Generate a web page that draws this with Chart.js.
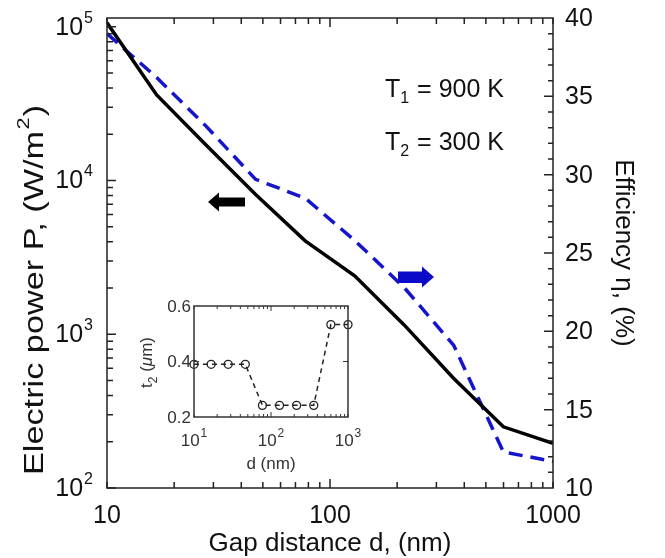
<!DOCTYPE html>
<html>
<head>
<meta charset="utf-8">
<script src="https://cdn.jsdelivr.net/npm/chart.js@4.4.1/dist/chart.umd.min.js"></script>
<style>
    body { margin: 0; background: #fff; }
    #wrap { position: relative; width: 665px; height: 558px; }
    #main { position: absolute; left: 0; top: 0; }
    #inset { position: absolute; left: 140px; top: 290px; }
</style>
</head>
<body>
<div id="wrap">
    <canvas id="main" width="665" height="558"></canvas>
    <canvas id="inset" width="230" height="190"></canvas>
</div>
<script>
// values
const gapNm = [10, 16.7, 27.8, 46.4, 77.4, 129, 215, 359, 599, 1000];
const powerWm2 = [106000, 36000, 17000, 8100, 4050, 2400, 1150, 515, 250, 195];
const efficiencyPct = [39.0, 36.2, 33.1, 29.7, 28.5, 25.8, 22.8, 19.1, 12.3, 11.7];
const t2Um = [0.39, 0.39, 0.39, 0.39, 0.242, 0.242, 0.242, 0.242, 0.533, 0.533];

const gapTickLabels = ["10", "100", "1000"];
const powerTickExps = [2, 3, 4, 5];
const effTickLabels = [10, 15, 20, 25, 30, 35, 40];
const insetYTicks = [0.2, 0.4, 0.6];
const insetXTickExps = [1, 2, 3];

const FONT = '"Liberation Sans", Arial, sans-serif';

const toPoints = (xs, ys) => xs.map((x, i) => ({x: x, y: ys[i]}));

// minor ticks for a log axis between two decades
const logTicks = (from, to) => {
    const out = [];
    for (let d = from; d < to; d *= 10) {
        for (let k = 1; k < 10; k++) out.push(k * d);
    }
    out.push(to);
    return out;
};

const supText = (ctx, base, sup, x, y, align, size, supSize, raise) => {
    ctx.font = size + "px " + FONT;
    const wb = ctx.measureText(base).width;
    ctx.font = supSize + "px " + FONT;
    const ws = ctx.measureText(sup).width;
    const total = wb + ws + 1;
    let x0 = x;
    if (align === "right") x0 = x - total;
    if (align === "center") x0 = x - total / 2;
    ctx.textAlign = "left";
    ctx.textBaseline = "alphabetic";
    ctx.font = size + "px " + FONT;
    ctx.fillText(base, x0, y);
    ctx.font = supSize + "px " + FONT;
    ctx.fillText(sup, x0 + wb + 1, y - raise);
};

const mainDecor = {
    id: "mainDecor",
    afterDatasetsDraw(chart) {
        const {ctx, chartArea: a, scales} = chart;
        const xs = scales.x, yl = scales.y, yr = scales.y2;
        ctx.save();
        ctx.strokeStyle = "#222";
        ctx.lineWidth = 1.5;
        ctx.strokeRect(a.left, a.top, a.right - a.left, a.bottom - a.top);

        ctx.beginPath();
        logTicks(10, 1000).forEach(v => {
            const px = xs.getPixelForValue(v);
            const len = (v === 100) ? 9 : 6;
            ctx.moveTo(px, a.bottom); ctx.lineTo(px, a.bottom - len);
            ctx.moveTo(px, a.top); ctx.lineTo(px, a.top + len);
        });
        logTicks(100, 100000).forEach(v => {
            const py = yl.getPixelForValue(v);
            const len = (Math.log10(v) % 1 === 0) ? 9 : 6;
            ctx.moveTo(a.left, py); ctx.lineTo(a.left + len, py);
        });
        for (let v = 11; v < 40; v++) {
            const py = yr.getPixelForValue(v);
            const len = (v % 5 === 0) ? 9 : 5;
            ctx.moveTo(a.right, py); ctx.lineTo(a.right - len, py);
        }
        ctx.stroke();

        ctx.fillStyle = "#111";
        // x tick labels
        ctx.font = "25px " + FONT;
        ctx.textAlign = "center";
        ctx.textBaseline = "alphabetic";
        gapTickLabels.forEach(t => {
            ctx.fillText(t, xs.getPixelForValue(Number(t)), a.bottom + 35);
        });
        // left tick labels 10^n
        powerTickExps.forEach(e => {
            const py = yl.getPixelForValue(Math.pow(10, e));
            supText(ctx, "10", String(e), a.left - 14, py + 8, "right", 25, 16, 12);
        });
        // right tick labels
        ctx.font = "25px " + FONT;
        ctx.textAlign = "left";
        ctx.textBaseline = "middle";
        effTickLabels.forEach(v => {
            ctx.fillText(String(v), a.right + 12, yr.getPixelForValue(v) + 1);
        });

        // axis titles
        ctx.textAlign = "center";
        ctx.textBaseline = "alphabetic";
        ctx.font = "26px " + FONT;
        ctx.fillText("Gap distance d, (nm)", (a.left + a.right) / 2, 551);

        ctx.save();
        ctx.translate(623, 253);
        ctx.rotate(Math.PI / 2);
        ctx.font = "26px " + FONT;
        ctx.textBaseline = "middle";
        ctx.fillText("Efficiency \u03b7, (%)", 0, 0);
        ctx.restore();

        // left title is drawn wider along its length, as in the figure
        ctx.save();
        ctx.translate(33, 290);
        ctx.rotate(-Math.PI / 2);
        ctx.scale(1.27, 1);
        ctx.font = "27px " + FONT;
        const main1 = "Electric power P, (W/m";
        const w1 = ctx.measureText(main1).width;
        ctx.font = "17px " + FONT;
        const w2 = ctx.measureText("2").width;
        ctx.font = "27px " + FONT;
        const w3 = ctx.measureText(")").width;
        let x0 = -(w1 + w2 + w3 + 2) / 2;
        ctx.textAlign = "left";
        ctx.fillText(main1, x0, 10);
        ctx.font = "17px " + FONT;
        ctx.fillText("2", x0 + w1 + 1, -4);
        ctx.font = "27px " + FONT;
        ctx.fillText(")", x0 + w1 + w2 + 2, 10);
        ctx.restore();

        // temperatures
        const temps = [["1", " = 900 K", 97], ["2", " = 300 K", 150]];
        temps.forEach(([sub, rest, by]) => {
            ctx.textAlign = "left";
            ctx.font = "25px " + FONT;
            ctx.fillText("T", 385, by);
            const wt = ctx.measureText("T").width;
            ctx.font = "16px " + FONT;
            ctx.fillText(sub, 385 + wt, by + 6);
            const ws = ctx.measureText(sub).width;
            ctx.font = "25px " + FONT;
            ctx.fillText(rest, 385 + wt + ws + 1, by);
        });

        // arrows
        ctx.fillStyle = "#000";
        ctx.beginPath();
        ctx.moveTo(208, 202);
        ctx.lineTo(219, 192.5);
        ctx.lineTo(219, 197.5);
        ctx.lineTo(245, 197.5);
        ctx.lineTo(245, 206.5);
        ctx.lineTo(219, 206.5);
        ctx.lineTo(219, 211.5);
        ctx.closePath();
        ctx.fill();

        ctx.fillStyle = "#0a0ac8";
        ctx.beginPath();
        ctx.moveTo(434, 277);
        ctx.lineTo(422, 266.5);
        ctx.lineTo(422, 271.5);
        ctx.lineTo(398, 271.5);
        ctx.lineTo(398, 283);
        ctx.lineTo(422, 283);
        ctx.lineTo(422, 287.5);
        ctx.closePath();
        ctx.fill();
        ctx.restore();
    }
};

new Chart(document.getElementById("main"), {
    type: "line",
    data: {
        datasets: [
            {
                data: toPoints(gapNm, powerWm2),
                yAxisID: "y",
                borderColor: "#000",
                borderWidth: 3.5,
                pointRadius: 0,
                tension: 0
            },
            {
                data: toPoints(gapNm, efficiencyPct),
                yAxisID: "y2",
                borderColor: "#1515cc",
                borderWidth: 3.5,
                borderDash: [14, 8],
                pointRadius: 0,
                tension: 0
            }
        ]
    },
    options: {
        responsive: false,
        devicePixelRatio: 1,
        animation: false,
        layout: {padding: {left: 107, right: 112, top: 18, bottom: 70}},
        plugins: {legend: {display: false}, tooltip: {enabled: false}},
        scales: {
            x: {type: "logarithmic", min: 10, max: 1000, display: false},
            y: {type: "logarithmic", min: 100, max: 114000, display: false},
            y2: {type: "linear", min: 10, max: 40, display: false}
        }
    },
    plugins: [mainDecor]
});

const insetDecor = {
    id: "insetDecor",
    beforeDatasetsDraw(chart) {
        const {ctx, chartArea: a} = chart;
        ctx.save();
        ctx.fillStyle = "#fff";
        ctx.fillRect(a.left, a.top, a.right - a.left, a.bottom - a.top);
        ctx.restore();
    },
    afterDatasetsDraw(chart) {
        const {ctx, chartArea: a, scales} = chart;
        const xs = scales.x, ys = scales.y;
        ctx.save();
        ctx.strokeStyle = "#333";
        ctx.lineWidth = 1.5;
        ctx.strokeRect(a.left, a.top, a.right - a.left, a.bottom - a.top);
        ctx.lineWidth = 1;
        ctx.beginPath();
        logTicks(10, 1000).forEach(v => {
            const px = xs.getPixelForValue(v);
            const len = (v === 100) ? 5 : 3;
            ctx.moveTo(px, a.bottom); ctx.lineTo(px, a.bottom - len);
            ctx.moveTo(px, a.top); ctx.lineTo(px, a.top + len);
        });
        const py4 = ys.getPixelForValue(0.4);
        ctx.moveTo(a.left, py4); ctx.lineTo(a.left + 5, py4);
        ctx.moveTo(a.right, py4); ctx.lineTo(a.right - 5, py4);
        ctx.stroke();

        ctx.fillStyle = "#333";
        ctx.font = "17px " + FONT;
        ctx.textAlign = "right";
        ctx.textBaseline = "middle";
        insetYTicks.forEach(v => {
            ctx.fillText(v.toFixed(1), a.left - 3, ys.getPixelForValue(v) + 1);
        });
        insetXTickExps.forEach(e => {
            supText(ctx, "10", String(e), xs.getPixelForValue(Math.pow(10, e)), a.bottom + 29, "center", 17, 12, 9);
        });
        ctx.font = "17px " + FONT;
        ctx.textAlign = "center";
        ctx.textBaseline = "alphabetic";
        ctx.fillText("d (nm)", (a.left + a.right) / 2, a.bottom + 52);

        // rotated t2 (um) label
        ctx.save();
        ctx.translate(a.left - 48, (a.top + a.bottom) / 2 + 1);
        ctx.rotate(-Math.PI / 2);
        ctx.textAlign = "left";
        const parts = [["t", "17px " + FONT, 0], ["2", "12px " + FONT, 5], [" (", "17px " + FONT, 0],
            ["\u03bc", "italic 17px " + FONT, 0], ["m)", "17px " + FONT, 0]];
        let total = 0;
        parts.forEach(p => { ctx.font = p[1]; total += ctx.measureText(p[0]).width; });
        let cx = -total / 2;
        parts.forEach(p => {
            ctx.font = p[1];
            ctx.fillText(p[0], cx, 6 + p[2]);
            cx += ctx.measureText(p[0]).width;
        });
        ctx.restore();
        ctx.restore();
    }
};

new Chart(document.getElementById("inset"), {
    type: "line",
    data: {
        datasets: [{
            data: toPoints(gapNm, t2Um),
            borderColor: "#222",
            borderWidth: 1.5,
            borderDash: [5, 4],
            pointRadius: 4,
            pointBorderWidth: 1.3,
            pointBorderColor: "#222",
            pointBackgroundColor: "rgba(0,0,0,0)",
            clip: false,
            tension: 0
        }]
    },
    options: {
        responsive: false,
        devicePixelRatio: 1,
        animation: false,
        layout: {padding: {left: 54, right: 22, top: 16, bottom: 63}},
        plugins: {legend: {display: false}, tooltip: {enabled: false}},
        scales: {
            x: {type: "logarithmic", min: 10, max: 1000, display: false},
            y: {type: "linear", min: 0.2, max: 0.6, display: false}
        }
    },
    plugins: [insetDecor]
});
</script>
</body>
</html>
